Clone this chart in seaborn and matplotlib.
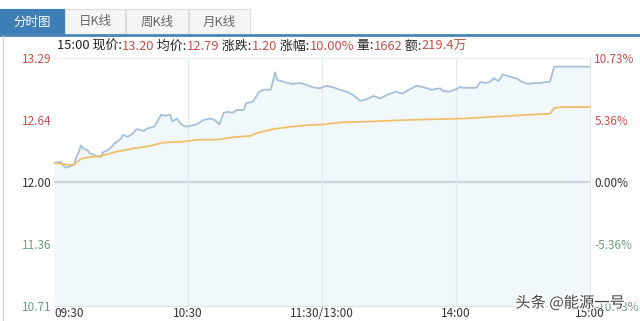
import numpy as np
import pandas as pd
import matplotlib
matplotlib.use("Agg")
import matplotlib.pyplot as plt
import matplotlib.patheffects as pe
from matplotlib.patches import Rectangle
from matplotlib.lines import Line2D
import seaborn as sns

# ---------------- data ----------------
price_minutes = [0, 3, 5, 7, 9, 10, 11, 12, 13, 15, 16, 18, 19, 21, 22, 24, 26, 27, 30, 31,
                 33, 35, 37, 39, 40, 42, 44, 45, 47, 48, 50, 52, 53, 55, 57, 59, 62, 64, 67, 70,
                 72, 74, 76, 78, 80, 82, 85, 86, 89, 92, 94, 97, 98, 99, 100, 102, 103, 105, 107, 110,
                 113, 116, 119, 122, 125, 128, 131, 134, 137, 140, 143, 146, 149, 153, 156, 159, 162, 165, 169, 173,
                 174, 177, 180, 182, 183, 189, 191, 193, 195, 197, 199, 201, 204, 207, 209, 212, 215, 218, 220, 222,
                 224, 240]
price_values = [12.20, 12.21, 12.15, 12.16, 12.18, 12.26, 12.30, 12.38, 12.35, 12.33, 12.30, 12.28, 12.27, 12.26, 12.31, 12.33, 12.37, 12.40, 12.45, 12.49,
                12.47, 12.50, 12.55, 12.54, 12.53, 12.56, 12.57, 12.58, 12.66, 12.70, 12.69, 12.70, 12.63, 12.66, 12.60, 12.575, 12.59, 12.60, 12.645, 12.66,
                12.645, 12.60, 12.72, 12.73, 12.72, 12.75, 12.75, 12.82, 12.835, 12.94, 12.96, 12.96, 13.04, 13.14, 13.06, 13.05, 13.04, 13.03, 13.02, 13.03,
                13.01, 12.985, 12.975, 13.00, 12.985, 12.96, 12.94, 12.905, 12.845, 12.86, 12.895, 12.87, 12.905, 12.94, 12.92, 12.96, 13.00, 12.99, 12.96, 12.975,
                12.95, 12.94, 12.965, 12.99, 12.98, 12.98, 13.04, 13.03, 13.04, 13.08, 13.05, 13.12, 13.095, 13.08, 13.05, 13.02, 13.03, 13.03, 13.04, 13.04,
                13.20, 13.20]

avg_minutes = [0, 6, 9, 12, 16, 21, 28, 36, 43, 49, 58, 65, 73, 80, 88, 91, 98, 106, 113, 121,
               128, 143, 158, 173, 183, 198, 213, 222, 224, 228, 240]
avg_values = [12.20, 12.18, 12.18, 12.24, 12.26, 12.27, 12.315, 12.35, 12.375, 12.41, 12.42, 12.44, 12.44, 12.465, 12.48, 12.51, 12.55, 12.575, 12.59, 12.60,
              12.62, 12.63, 12.645, 12.655, 12.66, 12.68, 12.70, 12.71, 12.77, 12.78, 12.78]

price_ticks = [13.29, 12.64, 12.00, 11.36, 10.71]
price_tick_labels = ["13.29", "12.64", "12.00", "11.36", "10.71"]
pct_tick_labels = ["10.73%", "5.36%", "0.00%", "-5.36%", "-10.73%"]
time_ticks = [0, 60, 120, 180, 240]
time_labels = ["09:30", "10:30", "11:30/13:00", "14:00", "15:00"]
tab_labels = ["分时图", "日K线", "周K线", "月K线"]
header_parts = [("15:00 现价:", "13.20"), (" 均价:", "12.79"), (" 涨跌:", "1.20"),
                (" 涨幅:", "10.00%"), (" 量:", "1662"), (" 额:", "219.4万")]
watermark = "头条 @能源一号"

# ---------------- style ----------------
sns.set_style("white")
plt.rcParams["font.family"] = ["Noto Sans CJK SC", "DejaVu Sans"]

RED = "#c8504b"
GREEN = "#6f9c80"
DARK = "#333333"
PRICE_C = "#a7c0d8"
AVG_C = "#f0bf6a"
FILL_C = "#f1f8fc"

W, H = 640, 321
fig = plt.figure(figsize=(W / 100, H / 100), dpi=100)
fig.patch.set_facecolor("white")

def fx(px):
    return px / W

def fy(py):
    return 1 - py / H

ax = fig.add_axes([fx(54), fy(306), fx(590) - fx(54), fy(58) - fy(306)])
ax.set_facecolor("white")

price_df = pd.DataFrame({"minute": price_minutes, "price": price_values})
avg_df = pd.DataFrame({"minute": avg_minutes, "avg": avg_values})

ymin, ymax = price_ticks[-1], price_ticks[0]
ax.fill_between(price_df["minute"], price_df["price"], ymin, color=FILL_C, zorder=1, linewidth=0)
ax.axhline(12.00, color="#cdd6dc", lw=1.6, zorder=2)
for t in time_ticks[1:-1]:
    ax.axvline(t, color="#e3e8ec", lw=0.9, zorder=2)
ax.axhline(ymax, color="#eeeeee", lw=0.9, zorder=2)

sns.lineplot(data=price_df, x="minute", y="price", ax=ax, color=PRICE_C, lw=1.3, zorder=3)
sns.lineplot(data=avg_df, x="minute", y="avg", ax=ax, color=AVG_C, lw=1.3, zorder=4)

ax.set_xlim(time_ticks[0], time_ticks[-1])
ax.set_ylim(ymin, ymax)
ax.set_xlabel("")
ax.set_ylabel("")
for s in ["top", "left"]:
    ax.spines[s].set_visible(False)
ax.spines["right"].set_color("#dde3e8")
ax.spines["bottom"].set_color("#dde3e8")

ax.set_yticks(price_ticks)
ax.set_yticklabels(price_tick_labels)
ycols = [RED, RED, DARK, GREEN, GREEN]
for lbl, c in zip(ax.get_yticklabels(), ycols):
    lbl.set_color(c)
ax.tick_params(axis="y", length=0, pad=2, labelsize=8.5)

ax.set_xticks(time_ticks)
ax.set_xticklabels(time_labels)
ax.tick_params(axis="x", length=0, pad=1, labelsize=8.5, labelcolor=DARK)
ax.get_xticklabels()[0].set_ha("left")

ax2 = ax.twinx()
ax2.set_ylim(ymin, ymax)
ax2.set_yticks(price_ticks)
ax2.set_yticklabels(pct_tick_labels)
for lbl, c in zip(ax2.get_yticklabels(), ycols):
    lbl.set_color(c)
ax2.tick_params(axis="y", length=0, pad=3, labelsize=8.5)
for s in ax2.spines.values():
    s.set_visible(False)

# ---------------- tabs / frame ----------------
tab_x = [0, 65, 126, 189, 251]
for i, lab in enumerate(tab_labels):
    x0, x1 = tab_x[i], tab_x[i + 1] - 1
    if i == 0:
        face, tc, ec = "#3d7eb6", "white", "#3d7eb6"
    else:
        face, tc, ec = "#f5f5f5", "#666666", "#dddddd"
    fig.add_artist(Rectangle((fx(x0), fy(35)), fx(x1 - x0), fy(9) - fy(35),
                             transform=fig.transFigure, facecolor=face, edgecolor=ec, lw=0.8))
    fig.text(fx((x0 + x1) / 2), fy(22), lab, color=tc, fontsize=9, ha="center", va="center")

fig.add_artist(Line2D([0, 1], [fy(35), fy(35)], transform=fig.transFigure, color="#4a85b8", lw=2))
fig.add_artist(Line2D([fx(3), fx(3)], [fy(36), 0], transform=fig.transFigure, color="#d5d5d5", lw=1))

# ---------------- header ----------------
HFS = 9.3
prev = None
for lab, val in header_parts:
    if prev is None:
        t = fig.text(fx(57), fy(46), lab, fontsize=HFS, va="center", ha="left", color="#222222")
    else:
        t = ax.annotate(lab, xy=(1, 0), xycoords=prev, va="bottom", ha="left",
                        fontsize=HFS, color="#222222", annotation_clip=False)
    v = ax.annotate(val, xy=(1, 0), xycoords=t, va="bottom", ha="left",
                    fontsize=HFS, color=RED, annotation_clip=False)
    prev = v

# ---------------- watermark ----------------
fig.text(fx(570), fy(303), watermark, fontsize=11, color="#444444", ha="center", va="center",
         path_effects=[pe.withStroke(linewidth=2, foreground="white")])

fig.savefig("out.png", dpi=100, facecolor="white")
